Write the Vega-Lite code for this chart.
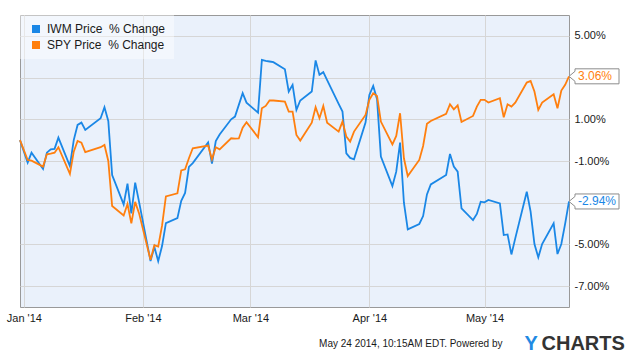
{
  "$schema": "https://vega.github.io/schema/vega-lite/v6.json",
  "width": 549,
  "height": 292,
  "autosize": {"type": "none"},
  "padding": {"left": 20, "top": 15, "right": 66, "bottom": 55},
  "background": "white",
  "config": {
    "font": "Liberation Sans",
    "locale": {"number": {"decimal": ".", "thousands": ",", "grouping": [3], "currency": ["$", ""], "minus": "-"}},
    "view": {"fill": "#eaf1fb", "stroke": "#999999", "strokeWidth": 1},
    "axis": {"gridColor": "#d6d6d6", "gridWidth": 1, "domain": false, "ticks": false, "labelFont": "Liberation Sans", "labelFontSize": 11, "labelColor": "#1a1a1a"}
  },
  "data": {
    "format": {"parse": {"date": "date:'%Y-%m-%d'"}},
    "values": [
      {"date": "2013-12-31", "IWM": 0, "SPY": 0},
      {"date": "2014-01-02", "IWM": -0.0108, "SPY": -0.0095},
      {"date": "2014-01-03", "IWM": -0.0060, "SPY": -0.0098},
      {"date": "2014-01-06", "IWM": -0.0138, "SPY": -0.0127},
      {"date": "2014-01-07", "IWM": -0.0060, "SPY": -0.0068},
      {"date": "2014-01-08", "IWM": -0.0044, "SPY": -0.0065},
      {"date": "2014-01-09", "IWM": -0.0042, "SPY": -0.0060},
      {"date": "2014-01-10", "IWM": 0.0012, "SPY": -0.0034},
      {"date": "2014-01-13", "IWM": -0.0124, "SPY": -0.0162},
      {"date": "2014-01-14", "IWM": 0.0000, "SPY": -0.0055},
      {"date": "2014-01-15", "IWM": 0.0073, "SPY": -0.0004},
      {"date": "2014-01-16", "IWM": 0.0084, "SPY": -0.0012},
      {"date": "2014-01-17", "IWM": 0.0049, "SPY": -0.0057},
      {"date": "2014-01-21", "IWM": 0.0105, "SPY": -0.0034},
      {"date": "2014-01-22", "IWM": 0.0158, "SPY": -0.0023},
      {"date": "2014-01-23", "IWM": 0.0092, "SPY": -0.0100},
      {"date": "2014-01-24", "IWM": -0.0167, "SPY": -0.0316},
      {"date": "2014-01-27", "IWM": -0.0308, "SPY": -0.0361},
      {"date": "2014-01-28", "IWM": -0.0209, "SPY": -0.0306},
      {"date": "2014-01-29", "IWM": -0.0351, "SPY": -0.0399},
      {"date": "2014-01-30", "IWM": -0.0204, "SPY": -0.0296},
      {"date": "2014-01-31", "IWM": -0.0295, "SPY": -0.0350},
      {"date": "2014-02-03", "IWM": -0.0580, "SPY": -0.0574},
      {"date": "2014-02-04", "IWM": -0.0512, "SPY": -0.0504},
      {"date": "2014-02-05", "IWM": -0.0580, "SPY": -0.0510},
      {"date": "2014-02-06", "IWM": -0.0508, "SPY": -0.0410},
      {"date": "2014-02-07", "IWM": -0.0398, "SPY": -0.0270},
      {"date": "2014-02-10", "IWM": -0.0374, "SPY": -0.0255},
      {"date": "2014-02-11", "IWM": -0.0291, "SPY": -0.0145},
      {"date": "2014-02-12", "IWM": -0.0253, "SPY": -0.0140},
      {"date": "2014-02-13", "IWM": -0.0128, "SPY": -0.0087},
      {"date": "2014-02-14", "IWM": -0.0110, "SPY": -0.0039},
      {"date": "2014-02-18", "IWM": -0.0011, "SPY": -0.0026},
      {"date": "2014-02-19", "IWM": -0.0113, "SPY": -0.0092},
      {"date": "2014-02-20", "IWM": -0.0004, "SPY": -0.0034},
      {"date": "2014-02-21", "IWM": 0.0027, "SPY": -0.0044},
      {"date": "2014-02-24", "IWM": 0.0100, "SPY": 0.0009},
      {"date": "2014-02-25", "IWM": 0.0113, "SPY": 0.0007},
      {"date": "2014-02-26", "IWM": 0.0169, "SPY": 0.0008},
      {"date": "2014-02-27", "IWM": 0.0225, "SPY": 0.0060},
      {"date": "2014-02-28", "IWM": 0.0180, "SPY": 0.0086},
      {"date": "2014-03-03", "IWM": 0.0132, "SPY": 0.0014},
      {"date": "2014-03-04", "IWM": 0.0385, "SPY": 0.0153},
      {"date": "2014-03-05", "IWM": 0.0380, "SPY": 0.0164},
      {"date": "2014-03-06", "IWM": 0.0377, "SPY": 0.0190},
      {"date": "2014-03-07", "IWM": 0.0374, "SPY": 0.0190},
      {"date": "2014-03-10", "IWM": 0.0340, "SPY": 0.0185},
      {"date": "2014-03-11", "IWM": 0.0233, "SPY": 0.0137},
      {"date": "2014-03-12", "IWM": 0.0265, "SPY": 0.0137},
      {"date": "2014-03-13", "IWM": 0.0145, "SPY": 0.0025},
      {"date": "2014-03-14", "IWM": 0.0190, "SPY": -0.0002},
      {"date": "2014-03-17", "IWM": 0.0233, "SPY": 0.0084},
      {"date": "2014-03-18", "IWM": 0.0382, "SPY": 0.0158},
      {"date": "2014-03-19", "IWM": 0.0313, "SPY": 0.0105},
      {"date": "2014-03-20", "IWM": 0.0326, "SPY": 0.0164},
      {"date": "2014-03-21", "IWM": 0.0288, "SPY": 0.0084},
      {"date": "2014-03-24", "IWM": 0.0174, "SPY": 0.0041},
      {"date": "2014-03-25", "IWM": 0.0137, "SPY": 0.0089},
      {"date": "2014-03-26", "IWM": -0.0063, "SPY": 0.0017},
      {"date": "2014-03-27", "IWM": -0.0085, "SPY": -0.0007},
      {"date": "2014-03-28", "IWM": -0.0092, "SPY": 0.0041},
      {"date": "2014-03-31", "IWM": 0.0084, "SPY": 0.0121},
      {"date": "2014-04-01", "IWM": 0.0217, "SPY": 0.0193},
      {"date": "2014-04-02", "IWM": 0.0260, "SPY": 0.0225},
      {"date": "2014-04-03", "IWM": 0.0196, "SPY": 0.0212},
      {"date": "2014-04-04", "IWM": -0.0079, "SPY": 0.0089},
      {"date": "2014-04-07", "IWM": -0.0220, "SPY": -0.0020},
      {"date": "2014-04-08", "IWM": -0.0151, "SPY": 0.0020},
      {"date": "2014-04-09", "IWM": -0.0012, "SPY": 0.0129},
      {"date": "2014-04-10", "IWM": -0.0300, "SPY": -0.0087},
      {"date": "2014-04-11", "IWM": -0.0428, "SPY": -0.0172},
      {"date": "2014-04-14", "IWM": -0.0402, "SPY": -0.0095},
      {"date": "2014-04-15", "IWM": -0.0364, "SPY": -0.0028},
      {"date": "2014-04-16", "IWM": -0.0260, "SPY": 0.0078},
      {"date": "2014-04-17", "IWM": -0.0212, "SPY": 0.0092},
      {"date": "2014-04-21", "IWM": -0.0167, "SPY": 0.0126},
      {"date": "2014-04-22", "IWM": -0.0066, "SPY": 0.0172},
      {"date": "2014-04-23", "IWM": -0.0127, "SPY": 0.0148},
      {"date": "2014-04-24", "IWM": -0.0151, "SPY": 0.0167},
      {"date": "2014-04-25", "IWM": -0.0327, "SPY": 0.0087},
      {"date": "2014-04-28", "IWM": -0.0383, "SPY": 0.0116},
      {"date": "2014-04-29", "IWM": -0.0354, "SPY": 0.0161},
      {"date": "2014-04-30", "IWM": -0.0295, "SPY": 0.0193},
      {"date": "2014-05-01", "IWM": -0.0298, "SPY": 0.0193},
      {"date": "2014-05-02", "IWM": -0.0287, "SPY": 0.0180},
      {"date": "2014-05-05", "IWM": -0.0303, "SPY": 0.0201},
      {"date": "2014-05-06", "IWM": -0.0455, "SPY": 0.0110},
      {"date": "2014-05-07", "IWM": -0.0452, "SPY": 0.0172},
      {"date": "2014-05-08", "IWM": -0.0548, "SPY": 0.0161},
      {"date": "2014-05-09", "IWM": -0.0471, "SPY": 0.0180},
      {"date": "2014-05-12", "IWM": -0.0247, "SPY": 0.0276},
      {"date": "2014-05-13", "IWM": -0.0343, "SPY": 0.0284},
      {"date": "2014-05-14", "IWM": -0.0498, "SPY": 0.0233},
      {"date": "2014-05-15", "IWM": -0.0562, "SPY": 0.0145},
      {"date": "2014-05-16", "IWM": -0.0498, "SPY": 0.0180},
      {"date": "2014-05-19", "IWM": -0.0399, "SPY": 0.0220},
      {"date": "2014-05-20", "IWM": -0.0546, "SPY": 0.0153},
      {"date": "2014-05-21", "IWM": -0.0498, "SPY": 0.0238},
      {"date": "2014-05-22", "IWM": -0.0400, "SPY": 0.0265},
      {"date": "2014-05-23", "IWM": -0.0294, "SPY": 0.0306}
    ]
  },
  "transform": [{"fold": ["IWM", "SPY"], "as": ["series", "value"]}],
  "layer": [
    {
      "mark": {"type": "line", "strokeWidth": 1.8, "interpolate": "linear"},
      "encoding": {
        "x": {
          "field": "date", "type": "temporal",
          "scale": {"domain": [{"year": 2013, "month": 12, "date": 31}, {"year": 2014, "month": 5, "date": 23}]},
          "axis": {
            "values": [{"year": 2014, "month": 1, "date": 1}, {"year": 2014, "month": 2, "date": 1}, {"year": 2014, "month": 3, "date": 1}, {"year": 2014, "month": 4, "date": 1}, {"year": 2014, "month": 5, "date": 1}],
            "format": "%b '%y", "labelFlush": false, "labelOverlap": false, "labelPadding": 5, "grid": true,
            "title": "May 24 2014, 10:15AM EDT. Powered by",
            "titleFont": "Liberation Sans", "titleFontSize": 10, "titleFontWeight": "normal", "titleColor": "#1a1a1a",
            "titleX": 482, "titleY": 36, "titleAlign": "right", "titleBaseline": "middle"
          }
        },
        "y": {
          "field": "value", "type": "quantitative",
          "scale": {"domain": [-0.08, 0.06], "nice": false, "zero": false},
          "axis": {
            "orient": "right",
            "values": [-0.07, -0.05, -0.03, -0.01, 0.01, 0.03, 0.05],
            "labelExpr": "(abs(datum.value) > 0.029 && abs(datum.value) < 0.031) ? '' : format(datum.value, '.2%')",
            "labelPadding": 5, "grid": true,
            "title": "CHARTS", "titleFont": "Liberation Sans", "titleFontSize": 20, "titleFontWeight": "bold", "titleColor": "#333333",
            "titleAngle": 0, "titleX": -28, "titleY": 328, "titleAlign": "left", "titleBaseline": "middle"
          }
        },
        "color": {
          "field": "series", "type": "nominal",
          "scale": {"domain": ["IWM", "SPY"], "range": ["#1a87e6", "#ff7f0e"]},
          "legend": {
            "orient": "none", "legendX": 0, "legendY": 0, "title": null,
            "padding": 8, "fillColor": "rgba(255,255,255,0.42)", "strokeColor": null,
            "symbolType": "square", "symbolSize": 64, "symbolStrokeWidth": 0, "symbolOffset": 2,
            "labelOffset": 5, "labelFontSize": 12, "labelFont": "Liberation Sans", "labelColor": "#1a1a1a",
            "rowPadding": 4, "labelLimit": 300,
            "labelExpr": "datum.label + ' Price\u00a0 % Change'",
            "encode": {
              "legend": {"update": {"width": {"value": 405}, "height": {"value": 42}}},
              "symbols": {"update": {"fill": {"scale": "color", "field": "value"}, "stroke": {"value": "transparent"}}}
            }
          }
        }
      }
    },
    {
      "transform": [{"filter": "time(datum.date) == time(datetime(2014, 4, 23))"}],
      "mark": {"type": "point", "shape": "M0,0 L6,-5 L6,-7.5 L50,-7.5 L50,7.5 L6,7.5 L6,5 Z", "size": 4, "filled": true, "fill": "white", "stroke": "#8c8c8c", "strokeWidth": 1, "opacity": 1},
      "encoding": {
        "x": {"field": "date", "type": "temporal"},
        "y": {
          "field": "value", "type": "quantitative",
          "axis": {
            "orient": "left", "labels": false, "ticks": false, "domain": false, "grid": false,
            "title": "Y", "titleFont": "Liberation Sans", "titleFontSize": 20, "titleFontWeight": "bold", "titleColor": "#1f8ae3",
            "titleAngle": 0, "titleX": 504, "titleY": 328, "titleAlign": "left", "titleBaseline": "middle"
          }
        }
      }
    },
    {
      "transform": [{"filter": "time(datum.date) == time(datetime(2014, 4, 23))"}],
      "mark": {"type": "text", "align": "left", "baseline": "middle", "dx": 9, "fontSize": 12, "font": "Liberation Sans"},
      "encoding": {
        "x": {"field": "date", "type": "temporal"},
        "y": {"field": "value", "type": "quantitative", "axis": null},
        "text": {"field": "value", "type": "quantitative", "format": ".2%"},
        "color": {"condition": {"test": "datum.value > 0", "value": "#ff7f0e"}, "value": "#1a87e6"}
      }
    }
  ],
  "resolve": {"axis": {"y": "independent"}}
}
